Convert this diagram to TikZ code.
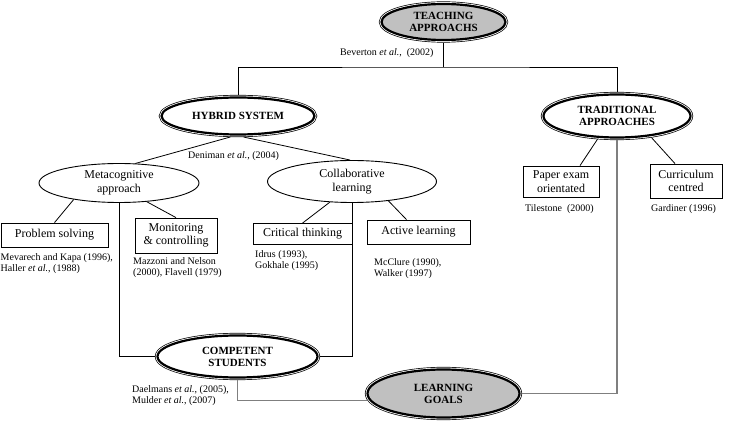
\documentclass[tikz,border=0pt]{standalone}
\usepackage{fontspec}
\setmainfont{Liberation Serif}
\usepackage{xcolor}
\usepackage{tikz}
\usetikzlibrary{shapes.geometric}
\definecolor{TAFill}{HTML}{C0C0C0}
\definecolor{TALine}{HTML}{7F7F7F}

\tikzset{
  mainoval/.style={ellipse, draw=black, fill=white, line width=2.2pt, inner sep=0pt, outer sep=2.6pt,
    preaction={draw=black, line width=5.2pt},
    preaction={draw=white, line width=3.8pt},
    align=center, font=\fontsize{11}{12}\selectfont\bfseries},
  greyoval/.style={mainoval, fill=TAFill},
  suboval/.style={ellipse, draw=black, line width=0.9pt, inner sep=0pt, align=center,
    font=\fontsize{12}{14}\selectfont},
  topicbox/.style={rectangle, draw=black, line width=0.8pt, inner sep=0pt, align=center,
    font=\fontsize{12}{13.5}\selectfont},
  cite/.style={anchor=west, inner sep=0pt, align=left, font=\fontsize{10}{11}\selectfont},
  link/.style={draw=black, line width=0.8pt},
  goallink/.style={draw=TALine, line width=1.1pt}
}

\begin{document}
\begin{tikzpicture}[x=1pt,y=-1pt]
\path[use as bounding box] (0,0) rectangle (731,430);
\node[greyoval,minimum width=124,minimum height=36] (teach) at (443.5,22) {TEACHING\\APPROACHS};
\node[mainoval,minimum width=153,minimum height=37] (hybrid) at (238,116) {HYBRID SYSTEM};
\node[mainoval,minimum width=147,minimum height=43] (trad) at (617,116) {TRADITIONAL\\APPROACHES};
\node[mainoval,minimum width=160,minimum height=42] (comp) at (237.5,356.5) {COMPETENT\\STUDENTS};
\node[greyoval,minimum width=152,minimum height=48] (learn) at (443.5,393.5) {LEARNING\\GOALS};
\node[suboval,minimum width=160,minimum height=39] (meta) at (119,183) {Metacognitive\\approach};
\node[suboval,minimum width=169,minimum height=42] (collab) at (352,181.5) {Collaborative\\learning};
\node[topicbox,minimum width=107,minimum height=24] (problem) at (54.5,235) {Problem solving};
\node[topicbox,minimum width=82,minimum height=35] (monitor) at (176,235.5) {Monitoring\\\&\ controlling};
\node[topicbox,minimum width=99,minimum height=21] (critical) at (302.5,234) {Critical thinking};
\node[topicbox,minimum width=103,minimum height=24] (active) at (418.5,232) {Active learning};
\node[topicbox,minimum width=76,minimum height=31] (paper) at (561,181.5) {Paper exam\\orientated};
\node[topicbox,minimum width=72,minimum height=34] (curric) at (686,181) {Curriculum\\centred};
\node[cite] (beverton) at (340,53) {Beverton \textit{et al.},\ \ (2002)};
\node[cite] (deniman) at (188,156) {Deniman \textit{et al.}, (2004)};
\node[cite] (mevarech) at (0.5,263.5) {Mevarech and Kapa (1996),\\Haller \textit{et al.}, (1988)};
\node[cite] (mazzoni) at (133,267.5) {Mazzoni and Nelson\\(2000), Flavell (1979)};
\node[cite] (idrus) at (255,260.5) {Idrus (1993),\\Gokhale (1995)};
\node[cite] (mcclure) at (374,268.5) {McClure (1990),\\Walker (1997)};
\node[cite] (tilestone) at (525,209) {Tilestone\ \ (2000)};
\node[cite] (gardiner) at (651,209) {Gardiner (1996)};
\node[cite] (daelmans) at (132,396) {Daelmans \textit{et al.}, (2005),\\Mulder \textit{et al.}, (2007)};
\coordinate (bar) at (443.5,67);
\draw[link] (teach.south) -- (bar);
\draw[link] (hybrid.north) |- (bar) -| (trad.north);
\draw[link] (hybrid.250) -- (meta.50);
\draw[link] (hybrid.285) -- (collab.95);
\draw[link] (meta.200) -- (problem.north);
\draw[link] (meta.326) -- (monitor.north);
\draw[link] (collab.223) -- (critical.north);
\draw[link] (collab.332) -- ([xshift=-12pt]active.north);
\draw[link] (trad.230) -- ([xshift=19pt]paper.north);
\draw[link] (trad.328) -- ([xshift=-11pt]curric.north);
\draw[link] (meta.south) |- (comp.west);
\draw[link] (collab.south) |- (comp.east);
\draw[goallink] (comp.south) |- (learn.185);
\draw[goallink] (trad.south) |- (learn.east);
\end{tikzpicture}
\end{document}
